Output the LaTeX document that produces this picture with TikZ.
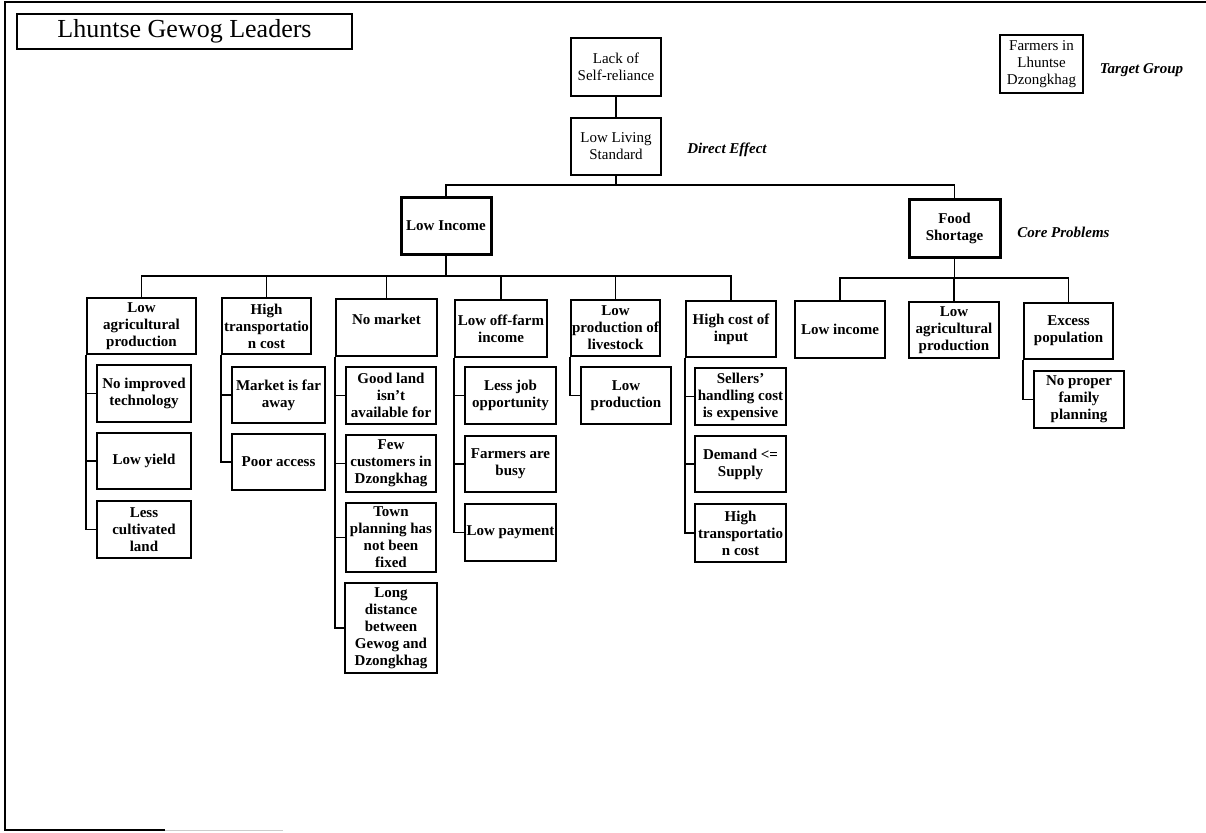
\documentclass[tikz,border=0pt]{standalone}
\usepackage{fontspec}
\setmainfont{Liberation Serif}

% Box with corners (x1,y1)-(x2,y2); y grows downwards in this picture
\newcommand{\pbox}[7][]{%
  \pgfmathsetmacro{\pbcx}{(#3+#5)/2}%
  \pgfmathsetmacro{\pbcy}{(#4+#6)/2}%
  \pgfmathsetmacro{\pbw}{#5-#3}%
  \pgfmathsetmacro{\pbh}{#6-#4}%
  \node[box,minimum width=\pbw pt,minimum height=\pbh pt,#1] (#2) at (\pbcx,\pbcy) {#7};%
}

\begin{document}
\begin{tikzpicture}[x=1pt,y=-1pt,
  box/.style={draw,line width=1.4pt,rectangle,inner sep=0pt,align=center,
    font=\fontsize{15}{17}\selectfont\bfseries},
  plain/.style={font=\fontsize{15}{17}\selectfont},
  core/.style={line width=3pt},
  link/.style={line width=1.7pt},
  tag/.style={font=\fontsize{15}{17}\selectfont\bfseries\itshape},
  frame/.style={line width=1.8pt}]
\useasboundingbox (0,0) rectangle (1206,832);

% page frame
\draw[frame] (1206,2) -- (5,2) -- (5,830) -- (165,830);
\draw[gray!40,line width=1pt] (165,830) -- (283,830);

% title
\node[draw,line width=1.4pt,minimum width=335pt,minimum height=35pt,inner sep=0pt,
  font=\fontsize{26}{28}\selectfont] (title) at (184.5,31.5) {Lhuntse Gewog Leaders};

% effects and target group
\pbox[plain]{lsr}{571}{38}{661}{96}{Lack of\\Self-reliance}
\pbox[plain]{lls}{571}{118}{661}{175}{Low Living\\Standard}
\pbox[plain]{farm}{1000}{35}{1083}{93}{Farmers in\\Lhuntse\\Dzongkhag}

\node[tag] (direct) at (727,150) {Direct Effect};
\node[tag] (corep) at (1063.5,232) {Core Problems};
\node[tag] (target) at (1141.5,70) {Target Group};

% core problems
\pbox[core]{li}{401}{197}{491}{254}{Low Income}
\pbox[core]{fs}{909}{199}{1000}{257}{Food\\Shortage}

% causes of low income
\pbox{lap}{87}{298}{196}{354}{Low\\agricultural\\production}
\pbox{htc}{222}{298}{311}{354}{High\\transportatio\\n cost}
\pbox{nm}{336}{299}{437}{356}{No market\\\mbox{}}
\pbox{lof}{455}{300}{547}{357}{Low off-farm\\income}
\pbox{lpl}{571}{300}{660}{356}{Low\\production of\\livestock}
\pbox{hci}{686}{301}{776}{357}{High cost of\\input}

% causes of food shortage
\pbox{rli}{795}{301}{885}{358}{Low income}
\pbox{rla}{909}{302}{999}{358}{Low\\agricultural\\production}
\pbox{exp}{1024}{303}{1113}{359}{Excess\\population}

% root causes
\pbox{a1}{97}{365}{191}{422}{No improved\\technology}
\pbox{a2}{97}{433}{191}{489}{Low yield}
\pbox{a3}{97}{501}{191}{558}{Less\\cultivated\\land}

\pbox{b1}{232}{367}{325}{423}{Market is far\\away}
\pbox{b2}{232}{434}{325}{490}{Poor access}

\pbox{c1}{346}{367}{436}{424}{Good land\\isn't\\available for}
\pbox{c2}{346}{435}{436}{492}{Few\\customers in\\Dzongkhag}
\pbox{c3}{346}{503}{436}{572}{Town\\planning has\\not been\\fixed}
\pbox{c4}{345}{583}{437}{673}{Long\\distance\\between\\Gewog and\\Dzongkhag}

\pbox{d1}{465}{367}{556}{424}{Less job\\opportunity}
\pbox{d2}{465}{436}{556}{492}{Farmers are\\busy}
\pbox{d3}{465}{504}{556}{561}{Low payment}

\pbox{e1}{581}{367}{671}{424}{Low\\production}

\pbox{f1}{695}{368}{786}{425}{Sellers'\\handling cost\\is expensive}
\pbox{f2}{695}{436}{786}{492}{Demand <=\\Supply}
\pbox{f3}{695}{504}{786}{562}{High\\transportatio\\n cost}

\pbox{g1}{1034}{371}{1124}{428}{No proper\\family\\planning}

% upper connectors
\coordinate (bar0) at (0,185);
\coordinate (bar1) at (0,276);
\coordinate (bar2) at (0,278);
\draw[link] (lsr.south) -- (lls.north);
\draw[link] (lls.south) -- (lls.south |- bar0);
\draw[link] (li.north) -- (li.north |- bar0) -- (fs.north |- bar0) -- (fs.north);

\draw[link] (li.south) -- (li.south |- bar1);
\draw[link] (lap.north) -- (lap.north |- bar1) -- (hci.north |- bar1) -- (hci.north);
\foreach \n in {htc,nm,lof,lpl}
  \draw[link] (\n.north) -- (\n.north |- bar1);

\draw[link] (fs.south) -- (fs.south |- bar2);
\draw[link] (rli.north) -- (rli.north |- bar2) -- (exp.north |- bar2) -- (exp.north);
\draw[link] (rla.north) -- (rla.north |- bar2);

% side connectors to root causes
\draw[link] (lap.south west) |- (a3.west);
\foreach \n in {a1,a2} \draw[link] (lap.south west |- \n.west) -- (\n.west);
\draw[link] (htc.south west) |- (b2.west);
\draw[link] (htc.south west |- b1.west) -- (b1.west);
\draw[link] (nm.south west) |- (c4.west);
\foreach \n in {c1,c2,c3} \draw[link] (nm.south west |- \n.west) -- (\n.west);
\draw[link] (lof.south west) |- (d3.west);
\foreach \n in {d1,d2} \draw[link] (lof.south west |- \n.west) -- (\n.west);
\draw[link] (lpl.south west) |- (e1.west);
\draw[link] (hci.south west) |- (f3.west);
\foreach \n in {f1,f2} \draw[link] (hci.south west |- \n.west) -- (\n.west);
\draw[link] (exp.south west) |- (g1.west);
\end{tikzpicture}
\end{document}
